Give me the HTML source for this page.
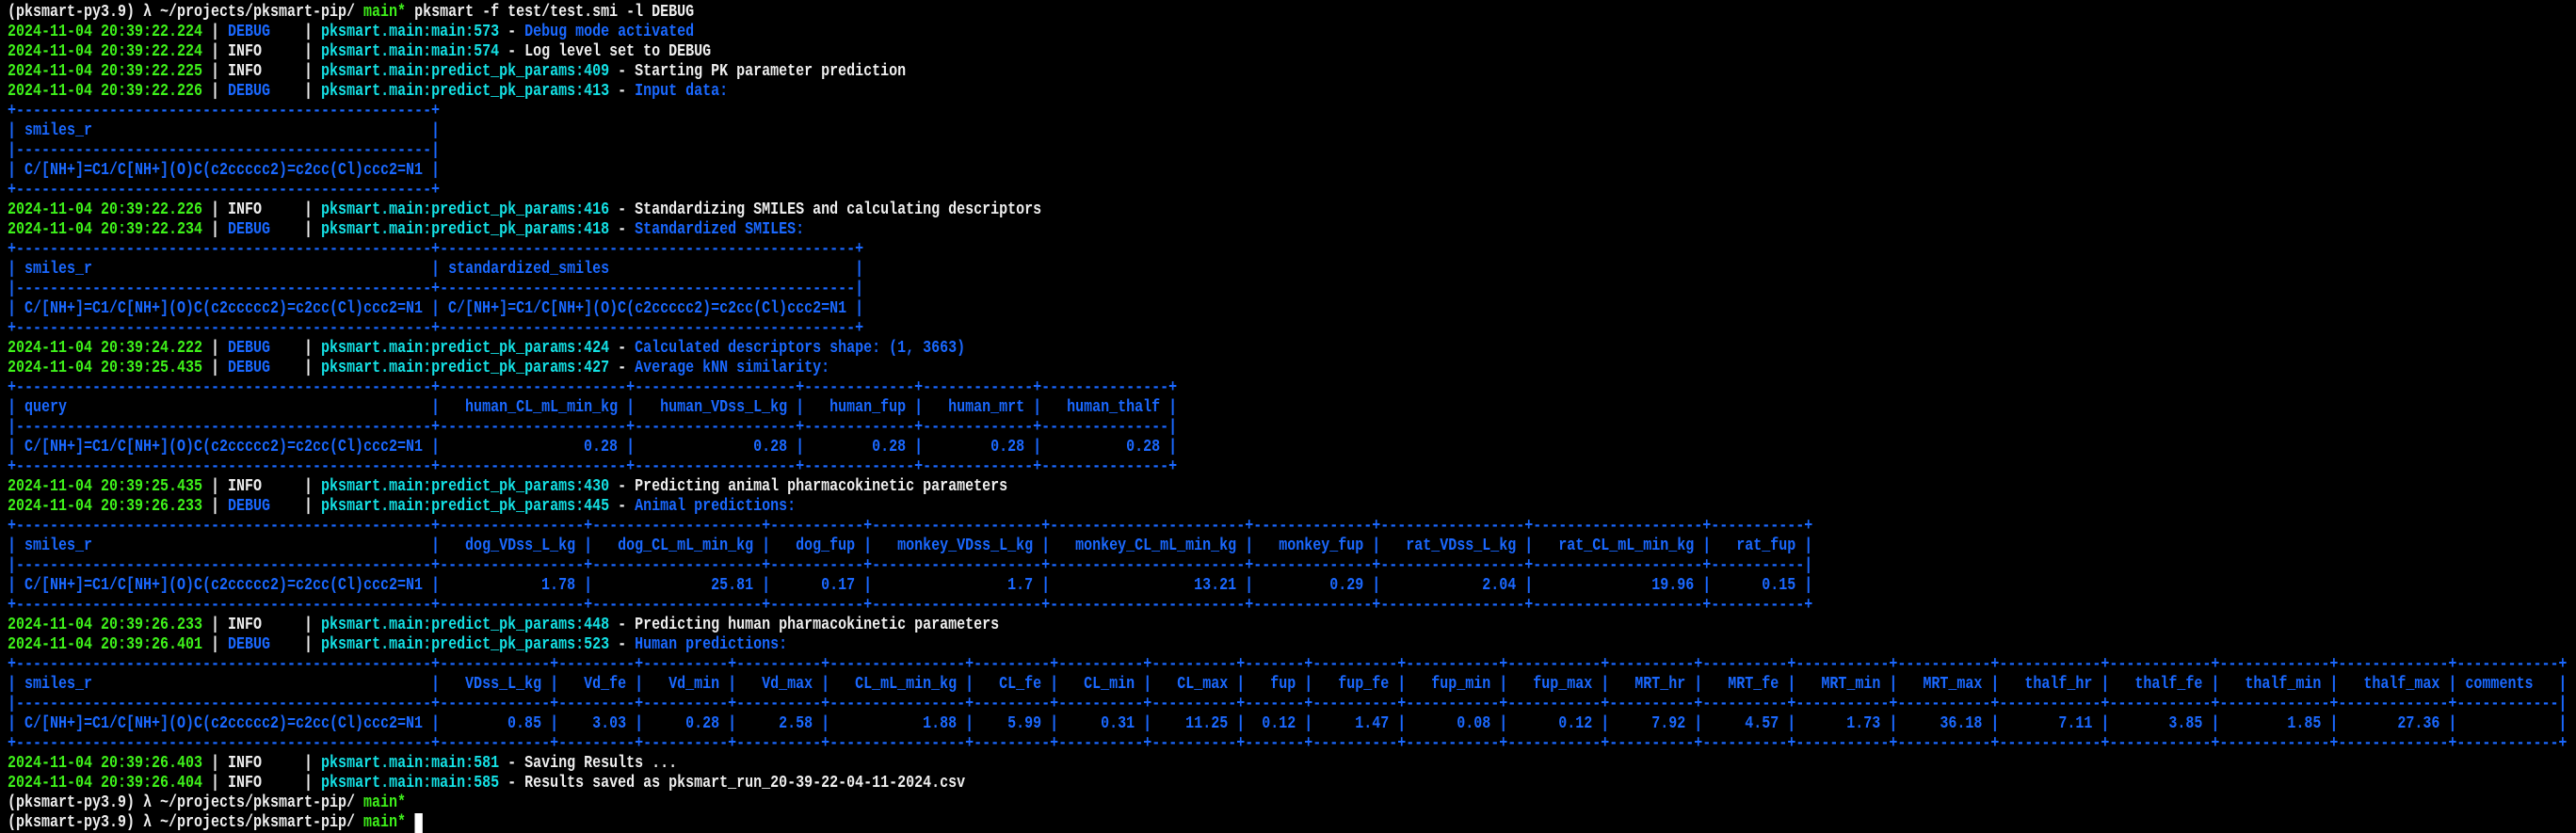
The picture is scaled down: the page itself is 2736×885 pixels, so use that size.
<!DOCTYPE html>
<html><head><meta charset="utf-8"><style>
html,body{margin:0;padding:0;background:#000;width:2736px;height:869px;overflow:hidden}
#t{position:absolute;left:8px;top:3px;font-family:"Liberation Mono",monospace;font-weight:bold;font-size:18px;line-height:21px;color:#eeeeee;transform:scaleX(0.8333);transform-origin:0 0;white-space:nowrap;width:3400px}
.l{height:21px;white-space:pre}
.g{color:#3ef01a}.b{color:#1a68ff}.c{color:#14e0e4}
.w{display:inline-block;vertical-align:top;overflow:hidden;white-space:pre;height:21px}
.r{text-align:right}
.cur{display:inline-block;vertical-align:top;width:1ch;height:21px;background:#fff}
</style></head><body><div id="t">
<div class="l">(pksmart-py3.9) λ ~/projects/pksmart-pip/ <span class="g">main*</span> pksmart -f test/test.smi -l DEBUG</div>
<div class="l"><span class="g">2024-11-04 20:39:22.224</span> | <span class="b">DEBUG   </span> | <span class="c">pksmart.main:main:573</span> - <span class="b">Debug mode activated</span></div>
<div class="l"><span class="g">2024-11-04 20:39:22.224</span> | INFO     | <span class="c">pksmart.main:main:574</span> - Log level set to DEBUG</div>
<div class="l"><span class="g">2024-11-04 20:39:22.225</span> | INFO     | <span class="c">pksmart.main:predict_pk_params:409</span> - Starting PK parameter prediction</div>
<div class="l"><span class="g">2024-11-04 20:39:22.226</span> | <span class="b">DEBUG   </span> | <span class="c">pksmart.main:predict_pk_params:413</span> - <span class="b">Input data:</span></div>
<div class="l b">+<span class="w" style="width:49ch">--------------------------------------------------</span>+</div>
<div class="l b">|<span class="w" style="width:49ch"> smiles_r</span>|</div>
<div class="l b">|<span class="w" style="width:49ch">--------------------------------------------------</span>|</div>
<div class="l b">| C/[NH+]=C1/C[NH+](O)C(c2ccccc2)=c2cc(Cl)ccc2=N1 |</div>
<div class="l b">+<span class="w" style="width:49ch">--------------------------------------------------</span>+</div>
<div class="l"><span class="g">2024-11-04 20:39:22.226</span> | INFO     | <span class="c">pksmart.main:predict_pk_params:416</span> - Standardizing SMILES and calculating descriptors</div>
<div class="l"><span class="g">2024-11-04 20:39:22.234</span> | <span class="b">DEBUG   </span> | <span class="c">pksmart.main:predict_pk_params:418</span> - <span class="b">Standardized SMILES:</span></div>
<div class="l b">+<span class="w" style="width:49ch">--------------------------------------------------</span>+<span class="w" style="width:49ch">--------------------------------------------------</span>+</div>
<div class="l b">|<span class="w" style="width:49ch"> smiles_r</span>|<span class="w" style="width:49ch"> standardized_smiles</span>|</div>
<div class="l b">|<span class="w" style="width:49ch">--------------------------------------------------</span>+<span class="w" style="width:49ch">--------------------------------------------------</span>|</div>
<div class="l b">| C/[NH+]=C1/C[NH+](O)C(c2ccccc2)=c2cc(Cl)ccc2=N1 | C/[NH+]=C1/C[NH+](O)C(c2ccccc2)=c2cc(Cl)ccc2=N1 |</div>
<div class="l b">+<span class="w" style="width:49ch">--------------------------------------------------</span>+<span class="w" style="width:49ch">--------------------------------------------------</span>+</div>
<div class="l"><span class="g">2024-11-04 20:39:24.222</span> | <span class="b">DEBUG   </span> | <span class="c">pksmart.main:predict_pk_params:424</span> - <span class="b">Calculated descriptors shape: (1, 3663)</span></div>
<div class="l"><span class="g">2024-11-04 20:39:25.435</span> | <span class="b">DEBUG   </span> | <span class="c">pksmart.main:predict_pk_params:427</span> - <span class="b">Average kNN similarity:</span></div>
<div class="l b">+<span class="w" style="width:49ch">--------------------------------------------------</span>+<span class="w" style="width:22ch">--------------------------------------------------</span>+<span class="w" style="width:19ch">--------------------------------------------------</span>+<span class="w" style="width:13ch">--------------------------------------------------</span>+<span class="w" style="width:13ch">--------------------------------------------------</span>+<span class="w" style="width:15ch">--------------------------------------------------</span>+</div>
<div class="l b">|<span class="w" style="width:49ch"> query</span>|<span class="w r" style="width:22ch">human_CL_mL_min_kg </span>|<span class="w r" style="width:19ch">human_VDss_L_kg </span>|<span class="w r" style="width:13ch">human_fup </span>|<span class="w r" style="width:13ch">human_mrt </span>|<span class="w r" style="width:15ch">human_thalf </span>|</div>
<div class="l b">|<span class="w" style="width:49ch">--------------------------------------------------</span>+<span class="w" style="width:22ch">--------------------------------------------------</span>+<span class="w" style="width:19ch">--------------------------------------------------</span>+<span class="w" style="width:13ch">--------------------------------------------------</span>+<span class="w" style="width:13ch">--------------------------------------------------</span>+<span class="w" style="width:15ch">--------------------------------------------------</span>|</div>
<div class="l b">| C/[NH+]=C1/C[NH+](O)C(c2ccccc2)=c2cc(Cl)ccc2=N1 |<span class="w r" style="width:22ch">0.28 </span>|<span class="w r" style="width:19ch">0.28 </span>|<span class="w r" style="width:13ch">0.28 </span>|<span class="w r" style="width:13ch">0.28 </span>|<span class="w r" style="width:15ch">0.28 </span>|</div>
<div class="l b">+<span class="w" style="width:49ch">--------------------------------------------------</span>+<span class="w" style="width:22ch">--------------------------------------------------</span>+<span class="w" style="width:19ch">--------------------------------------------------</span>+<span class="w" style="width:13ch">--------------------------------------------------</span>+<span class="w" style="width:13ch">--------------------------------------------------</span>+<span class="w" style="width:15ch">--------------------------------------------------</span>+</div>
<div class="l"><span class="g">2024-11-04 20:39:25.435</span> | INFO     | <span class="c">pksmart.main:predict_pk_params:430</span> - Predicting animal pharmacokinetic parameters</div>
<div class="l"><span class="g">2024-11-04 20:39:26.233</span> | <span class="b">DEBUG   </span> | <span class="c">pksmart.main:predict_pk_params:445</span> - <span class="b">Animal predictions:</span></div>
<div class="l b">+<span class="w" style="width:49ch">--------------------------------------------------</span>+<span class="w" style="width:17ch">--------------------------------------------------</span>+<span class="w" style="width:20ch">--------------------------------------------------</span>+<span class="w" style="width:11ch">--------------------------------------------------</span>+<span class="w" style="width:20ch">--------------------------------------------------</span>+<span class="w" style="width:23ch">--------------------------------------------------</span>+<span class="w" style="width:14ch">--------------------------------------------------</span>+<span class="w" style="width:17ch">--------------------------------------------------</span>+<span class="w" style="width:20ch">--------------------------------------------------</span>+<span class="w" style="width:11ch">--------------------------------------------------</span>+</div>
<div class="l b">|<span class="w" style="width:49ch"> smiles_r</span>|<span class="w r" style="width:17ch">dog_VDss_L_kg </span>|<span class="w r" style="width:20ch">dog_CL_mL_min_kg </span>|<span class="w r" style="width:11ch">dog_fup </span>|<span class="w r" style="width:20ch">monkey_VDss_L_kg </span>|<span class="w r" style="width:23ch">monkey_CL_mL_min_kg </span>|<span class="w r" style="width:14ch">monkey_fup </span>|<span class="w r" style="width:17ch">rat_VDss_L_kg </span>|<span class="w r" style="width:20ch">rat_CL_mL_min_kg </span>|<span class="w r" style="width:11ch">rat_fup </span>|</div>
<div class="l b">|<span class="w" style="width:49ch">--------------------------------------------------</span>+<span class="w" style="width:17ch">--------------------------------------------------</span>+<span class="w" style="width:20ch">--------------------------------------------------</span>+<span class="w" style="width:11ch">--------------------------------------------------</span>+<span class="w" style="width:20ch">--------------------------------------------------</span>+<span class="w" style="width:23ch">--------------------------------------------------</span>+<span class="w" style="width:14ch">--------------------------------------------------</span>+<span class="w" style="width:17ch">--------------------------------------------------</span>+<span class="w" style="width:20ch">--------------------------------------------------</span>+<span class="w" style="width:11ch">--------------------------------------------------</span>|</div>
<div class="l b">| C/[NH+]=C1/C[NH+](O)C(c2ccccc2)=c2cc(Cl)ccc2=N1 |<span class="w r" style="width:17ch">1.78 </span>|<span class="w r" style="width:20ch">25.81 </span>|<span class="w r" style="width:11ch">0.17 </span>|<span class="w r" style="width:20ch">1.7 </span>|<span class="w r" style="width:23ch">13.21 </span>|<span class="w r" style="width:14ch">0.29 </span>|<span class="w r" style="width:17ch">2.04 </span>|<span class="w r" style="width:20ch">19.96 </span>|<span class="w r" style="width:11ch">0.15 </span>|</div>
<div class="l b">+<span class="w" style="width:49ch">--------------------------------------------------</span>+<span class="w" style="width:17ch">--------------------------------------------------</span>+<span class="w" style="width:20ch">--------------------------------------------------</span>+<span class="w" style="width:11ch">--------------------------------------------------</span>+<span class="w" style="width:20ch">--------------------------------------------------</span>+<span class="w" style="width:23ch">--------------------------------------------------</span>+<span class="w" style="width:14ch">--------------------------------------------------</span>+<span class="w" style="width:17ch">--------------------------------------------------</span>+<span class="w" style="width:20ch">--------------------------------------------------</span>+<span class="w" style="width:11ch">--------------------------------------------------</span>+</div>
<div class="l"><span class="g">2024-11-04 20:39:26.233</span> | INFO     | <span class="c">pksmart.main:predict_pk_params:448</span> - Predicting human pharmacokinetic parameters</div>
<div class="l"><span class="g">2024-11-04 20:39:26.401</span> | <span class="b">DEBUG   </span> | <span class="c">pksmart.main:predict_pk_params:523</span> - <span class="b">Human predictions:</span></div>
<div class="l b">+<span class="w" style="width:49ch">--------------------------------------------------</span>+<span class="w" style="width:13ch">--------------------------------------------------</span>+<span class="w" style="width:9ch">--------------------------------------------------</span>+<span class="w" style="width:10ch">--------------------------------------------------</span>+<span class="w" style="width:10ch">--------------------------------------------------</span>+<span class="w" style="width:16ch">--------------------------------------------------</span>+<span class="w" style="width:9ch">--------------------------------------------------</span>+<span class="w" style="width:10ch">--------------------------------------------------</span>+<span class="w" style="width:10ch">--------------------------------------------------</span>+<span class="w" style="width:7ch">--------------------------------------------------</span>+<span class="w" style="width:10ch">--------------------------------------------------</span>+<span class="w" style="width:11ch">--------------------------------------------------</span>+<span class="w" style="width:11ch">--------------------------------------------------</span>+<span class="w" style="width:10ch">--------------------------------------------------</span>+<span class="w" style="width:10ch">--------------------------------------------------</span>+<span class="w" style="width:11ch">--------------------------------------------------</span>+<span class="w" style="width:11ch">--------------------------------------------------</span>+<span class="w" style="width:12ch">--------------------------------------------------</span>+<span class="w" style="width:12ch">--------------------------------------------------</span>+<span class="w" style="width:13ch">--------------------------------------------------</span>+<span class="w" style="width:13ch">--------------------------------------------------</span>+<span class="w" style="width:12ch">--------------------------------------------------</span>+</div>
<div class="l b">|<span class="w" style="width:49ch"> smiles_r</span>|<span class="w r" style="width:13ch">VDss_L_kg </span>|<span class="w r" style="width:9ch">Vd_fe </span>|<span class="w r" style="width:10ch">Vd_min </span>|<span class="w r" style="width:10ch">Vd_max </span>|<span class="w r" style="width:16ch">CL_mL_min_kg </span>|<span class="w r" style="width:9ch">CL_fe </span>|<span class="w r" style="width:10ch">CL_min </span>|<span class="w r" style="width:10ch">CL_max </span>|<span class="w r" style="width:7ch">fup </span>|<span class="w r" style="width:10ch">fup_fe </span>|<span class="w r" style="width:11ch">fup_min </span>|<span class="w r" style="width:11ch">fup_max </span>|<span class="w r" style="width:10ch">MRT_hr </span>|<span class="w r" style="width:10ch">MRT_fe </span>|<span class="w r" style="width:11ch">MRT_min </span>|<span class="w r" style="width:11ch">MRT_max </span>|<span class="w r" style="width:12ch">thalf_hr </span>|<span class="w r" style="width:12ch">thalf_fe </span>|<span class="w r" style="width:13ch">thalf_min </span>|<span class="w r" style="width:13ch">thalf_max </span>|<span class="w" style="width:12ch"> comments</span>|</div>
<div class="l b">|<span class="w" style="width:49ch">--------------------------------------------------</span>+<span class="w" style="width:13ch">--------------------------------------------------</span>+<span class="w" style="width:9ch">--------------------------------------------------</span>+<span class="w" style="width:10ch">--------------------------------------------------</span>+<span class="w" style="width:10ch">--------------------------------------------------</span>+<span class="w" style="width:16ch">--------------------------------------------------</span>+<span class="w" style="width:9ch">--------------------------------------------------</span>+<span class="w" style="width:10ch">--------------------------------------------------</span>+<span class="w" style="width:10ch">--------------------------------------------------</span>+<span class="w" style="width:7ch">--------------------------------------------------</span>+<span class="w" style="width:10ch">--------------------------------------------------</span>+<span class="w" style="width:11ch">--------------------------------------------------</span>+<span class="w" style="width:11ch">--------------------------------------------------</span>+<span class="w" style="width:10ch">--------------------------------------------------</span>+<span class="w" style="width:10ch">--------------------------------------------------</span>+<span class="w" style="width:11ch">--------------------------------------------------</span>+<span class="w" style="width:11ch">--------------------------------------------------</span>+<span class="w" style="width:12ch">--------------------------------------------------</span>+<span class="w" style="width:12ch">--------------------------------------------------</span>+<span class="w" style="width:13ch">--------------------------------------------------</span>+<span class="w" style="width:13ch">--------------------------------------------------</span>+<span class="w" style="width:12ch">--------------------------------------------------</span>|</div>
<div class="l b">| C/[NH+]=C1/C[NH+](O)C(c2ccccc2)=c2cc(Cl)ccc2=N1 |<span class="w r" style="width:13ch">0.85 </span>|<span class="w r" style="width:9ch">3.03 </span>|<span class="w r" style="width:10ch">0.28 </span>|<span class="w r" style="width:10ch">2.58 </span>|<span class="w r" style="width:16ch">1.88 </span>|<span class="w r" style="width:9ch">5.99 </span>|<span class="w r" style="width:10ch">0.31 </span>|<span class="w r" style="width:10ch">11.25 </span>|<span class="w r" style="width:7ch">0.12 </span>|<span class="w r" style="width:10ch">1.47 </span>|<span class="w r" style="width:11ch">0.08 </span>|<span class="w r" style="width:11ch">0.12 </span>|<span class="w r" style="width:10ch">7.92 </span>|<span class="w r" style="width:10ch">4.57 </span>|<span class="w r" style="width:11ch">1.73 </span>|<span class="w r" style="width:11ch">36.18 </span>|<span class="w r" style="width:12ch">7.11 </span>|<span class="w r" style="width:12ch">3.85 </span>|<span class="w r" style="width:13ch">1.85 </span>|<span class="w r" style="width:13ch">27.36 </span>|<span class="w" style="width:12ch"> </span>|</div>
<div class="l b">+<span class="w" style="width:49ch">--------------------------------------------------</span>+<span class="w" style="width:13ch">--------------------------------------------------</span>+<span class="w" style="width:9ch">--------------------------------------------------</span>+<span class="w" style="width:10ch">--------------------------------------------------</span>+<span class="w" style="width:10ch">--------------------------------------------------</span>+<span class="w" style="width:16ch">--------------------------------------------------</span>+<span class="w" style="width:9ch">--------------------------------------------------</span>+<span class="w" style="width:10ch">--------------------------------------------------</span>+<span class="w" style="width:10ch">--------------------------------------------------</span>+<span class="w" style="width:7ch">--------------------------------------------------</span>+<span class="w" style="width:10ch">--------------------------------------------------</span>+<span class="w" style="width:11ch">--------------------------------------------------</span>+<span class="w" style="width:11ch">--------------------------------------------------</span>+<span class="w" style="width:10ch">--------------------------------------------------</span>+<span class="w" style="width:10ch">--------------------------------------------------</span>+<span class="w" style="width:11ch">--------------------------------------------------</span>+<span class="w" style="width:11ch">--------------------------------------------------</span>+<span class="w" style="width:12ch">--------------------------------------------------</span>+<span class="w" style="width:12ch">--------------------------------------------------</span>+<span class="w" style="width:13ch">--------------------------------------------------</span>+<span class="w" style="width:13ch">--------------------------------------------------</span>+<span class="w" style="width:12ch">--------------------------------------------------</span>+</div>
<div class="l"><span class="g">2024-11-04 20:39:26.403</span> | INFO     | <span class="c">pksmart.main:main:581</span> - Saving Results ...</div>
<div class="l"><span class="g">2024-11-04 20:39:26.404</span> | INFO     | <span class="c">pksmart.main:main:585</span> - Results saved as pksmart_run_20-39-22-04-11-2024.csv</div>
<div class="l">(pksmart-py3.9) λ ~/projects/pksmart-pip/ <span class="g">main*</span></div>
<div class="l">(pksmart-py3.9) λ ~/projects/pksmart-pip/ <span class="g">main*</span> <span class="cur"></span></div>
</div></body></html>
